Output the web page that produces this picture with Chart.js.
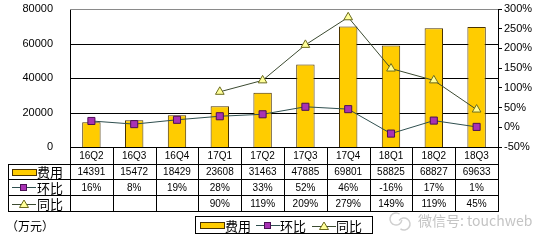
<!DOCTYPE html>
<html>
<head>
<meta charset="utf-8">
<script src="https://cdn.jsdelivr.net/npm/chart.js@4"></script>
<style>
  body { margin: 0; background: #fff; }
</style>
</head>
<body>
<canvas id="costCanvas" width="542" height="245"></canvas>
<script>
// data
const quarters = ['16Q2', '16Q3', '16Q4', '17Q1', '17Q2', '17Q3', '17Q4', '18Q1', '18Q2', '18Q3'];
const cost = [14391, 15472, 18429, 23608, 31463, 47885, 69801, 58825, 68827, 69633];
const qoq = [16, 8, 19, 28, 33, 52, 46, -16, 17, 1];
const yoy = [null, null, null, 90, 119, 209, 279, 149, 119, 45];

const BAR_FILL = '#FFCC00';
const BAR_EDGE = '#4a3300';
const SQ_FILL = '#A832B4';
const SQ_EDGE = '#4b0f55';
const TRI_FILL = '#FFFF99';
const TRI_EDGE = '#6b6b1e';
const LINE1 = '#2f4f4f';
const LINE2 = '#3b4a30';

const numFont = '10px "Liberation Sans", Arial, sans-serif';
const cjkFont = '13px "Noto Sans CJK SC", sans-serif';

function swatchBar(c, x, y) {
  c.fillStyle = BAR_FILL;
  c.fillRect(x, y, 24, 6);
  c.strokeStyle = BAR_EDGE;
  c.lineWidth = 1;
  c.strokeRect(x + 0.5, y + 0.5, 24, 6);
}
function swatchSquare(c, x, y) {
  c.strokeStyle = LINE1;
  c.lineWidth = 1;
  c.beginPath(); c.moveTo(x, y + 0.5); c.lineTo(x + 24, y + 0.5); c.stroke();
  c.fillStyle = SQ_FILL;
  c.fillRect(x + 8, y - 3, 7, 7);
  c.strokeStyle = SQ_EDGE;
  c.strokeRect(x + 8.5, y - 2.5, 6, 6);
}
function swatchTri(c, x, y) {
  c.strokeStyle = LINE2;
  c.lineWidth = 1;
  c.beginPath(); c.moveTo(x, y + 0.5); c.lineTo(x + 24, y + 0.5); c.stroke();
  c.beginPath();
  c.moveTo(x + 12, y - 4); c.lineTo(x + 16.5, y + 3.5); c.lineTo(x + 7.5, y + 3.5); c.closePath();
  c.fillStyle = TRI_FILL; c.fill();
  c.strokeStyle = TRI_EDGE; c.stroke();
}

// horizontal gridlines, behind the bars
const gridPlugin = {
  id: 'hGrid',
  beforeDatasetsDraw(chart) {
    const c = chart.ctx;
    const a = chart.chartArea;
    const y = chart.scales.y;
    c.save();
    c.lineWidth = 1;
    y.ticks.forEach(t => {
      if (t.value === 0) return;
      const py = Math.round(y.getPixelForValue(t.value)) + 0.5;
      c.strokeStyle = t.value === 80000 ? '#8a8a8a' : '#000000';
      c.beginPath(); c.moveTo(a.left, py); c.lineTo(a.right, py); c.stroke();
    });
    c.restore();
  }
};

// data table + legend + notes under the plot
const tablePlugin = {
  id: 'dataTable',
  afterDraw(chart) {
    const c = chart.ctx;
    const a = chart.chartArea;
    const n = quarters.length;
    const colW = (a.right - a.left) / n;
    const r0 = a.bottom, r1 = a.bottom + 17, r2 = a.bottom + 32, r3 = a.bottom + 48, r4 = a.bottom + 64;
    const tl = 8;
    c.save();
    c.strokeStyle = '#000';
    c.lineWidth = 1;
    c.beginPath();
    [r1, r2, r3, r4].forEach(y => { c.moveTo(tl, y + 0.5); c.lineTo(a.right + 1, y + 0.5); });
    c.moveTo(a.left, r0 + 0.5); c.lineTo(a.right + 1, r0 + 0.5);
    c.moveTo(tl + 0.5, r1); c.lineTo(tl + 0.5, r4 + 1);
    for (let i = 0; i <= n; i++) {
      const x = Math.round(a.left + i * colW) + 0.5;
      c.moveTo(x, r0); c.lineTo(x, r4 + 1);
    }
    c.stroke();

    c.fillStyle = '#000';
    c.font = numFont;
    c.textAlign = 'center';
    c.textBaseline = 'middle';
    quarters.forEach((q, i) => {
      const cx = chart.scales.x.getPixelForValue(i);
      c.fillText(q, cx, (r0 + r1) / 2 + 1);
      c.fillText(String(cost[i]), cx, (r1 + r2) / 2 + 1);
      c.fillText(qoq[i] + '%', cx, (r2 + r3) / 2 + 1);
      if (yoy[i] !== null) c.fillText(yoy[i] + '%', cx, (r3 + r4) / 2 + 1);
    });

    // row headers
    swatchBar(c, 12, r1 + 5);
    swatchSquare(c, 12, (r2 + r3) / 2);
    swatchTri(c, 12, (r3 + r4) / 2 + 1);
    c.font = cjkFont;
    c.textAlign = 'left';
    c.fillStyle = '#000';
    c.fillText('费用', 37, (r1 + r2) / 2 + 1);
    c.fillText('环比', 37, (r2 + r3) / 2 + 1);
    c.fillText('同比', 37, (r3 + r4) / 2 + 1);

    // unit note
    c.font = '12px "Noto Sans CJK SC", sans-serif';
    c.fillText('（万元）', 6, 226);

    // legend box
    c.strokeStyle = '#000';
    c.strokeRect(195.5, 216.5, 177, 17);
    swatchBar(c, 200, 222);
    swatchSquare(c, 256, 225);
    swatchTri(c, 312, 226);
    c.font = cjkFont;
    c.fillStyle = '#000';
    c.fillText('费用', 225, 226);
    c.fillText('环比', 280, 226);
    c.fillText('同比', 336, 226);

    // watermark
    c.strokeStyle = '#cfcfcf';
    c.lineWidth = 1.5;
    c.beginPath(); c.arc(396, 219, 6, 0.2, Math.PI * 1.7); c.stroke();
    c.beginPath(); c.arc(404, 224, 6, Math.PI * 1.2, Math.PI * 2.7); c.stroke();
    c.fillStyle = '#c4c4c4';
    c.font = '14px "Noto Sans CJK SC", sans-serif';
    c.fillText('微信号: touchweb', 418, 221);
    c.restore();
  }
};

// fixed axis boxes so the plot sits where it does in the picture
function fixAxis(width) {
  return s => {
    s.width = width;
    s.paddingTop = 0;
    s.paddingBottom = 0;
  };
}

const costChart = new Chart(document.getElementById('costCanvas'), {
  data: {
    labels: quarters,
    datasets: [
      {
        type: 'line', label: '环比', data: qoq, yAxisID: 'y1', order: 1,
        borderColor: LINE1, borderWidth: 1, tension: 0,
        pointStyle: 'rect', pointRadius: 5, pointBackgroundColor: SQ_FILL, pointBorderColor: SQ_EDGE, pointBorderWidth: 1
      },
      {
        type: 'line', label: '同比', data: yoy, yAxisID: 'y1', order: 2,
        borderColor: LINE2, borderWidth: 1, tension: 0, spanGaps: false,
        pointStyle: 'triangle', pointRadius: 5, pointBackgroundColor: TRI_FILL, pointBorderColor: TRI_EDGE, pointBorderWidth: 1
      },
      {
        type: 'bar', label: '费用', data: cost, yAxisID: 'y', order: 3,
        backgroundColor: BAR_FILL, borderColor: BAR_EDGE, borderWidth: 1,
        barPercentage: 0.43, categoryPercentage: 1
      }
    ]
  },
  options: {
    responsive: false,
    animation: false,
    layout: { autoPadding: false, padding: { top: 9, bottom: 98, left: 0, right: 0 } },
    plugins: { legend: { display: false }, tooltip: { enabled: false } },
    scales: {
      x: { display: false, offset: true },
      y: {
        position: 'left', min: 0, max: 80000,
        afterFit: fixAxis(70),
        ticks: { stepSize: 20000, color: '#000', padding: 9, callback: v => String(v), font: { family: '"Liberation Sans", Arial, sans-serif', size: 11 } },
        grid: { display: false },
        border: { display: true, color: '#000' }
      },
      y1: {
        position: 'right', min: -50, max: 300,
        afterFit: fixAxis(44),
        ticks: { stepSize: 50, color: '#000', padding: 2, callback: v => v + '%', font: { family: '"Liberation Sans", Arial, sans-serif', size: 11 } },
        grid: { drawOnChartArea: false, color: '#000', tickLength: 4 },
        border: { display: true, color: '#000' }
      }
    }
  },
  plugins: [gridPlugin, tablePlugin]
});
</script>
</body>
</html>
